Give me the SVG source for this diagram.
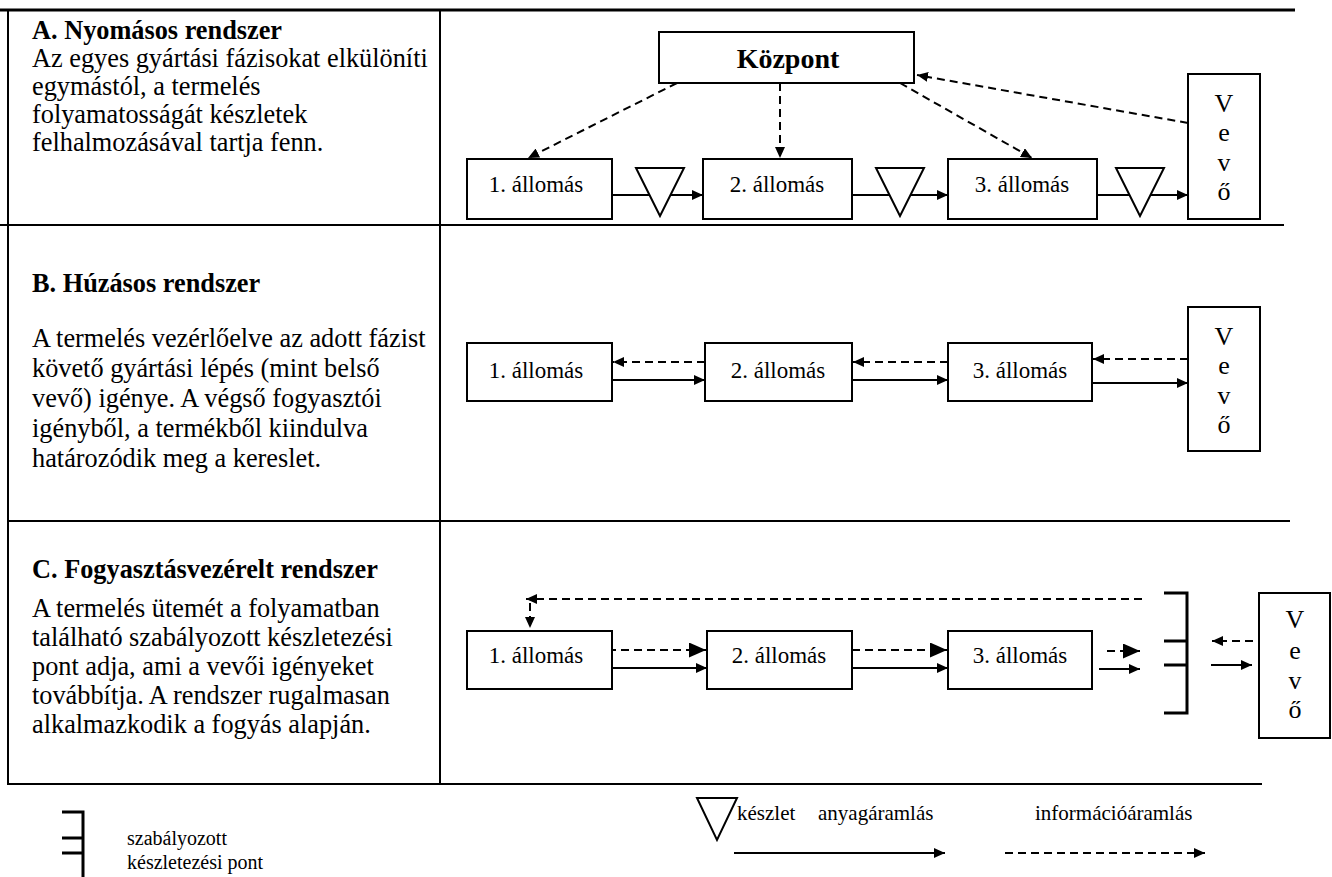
<svg xmlns="http://www.w3.org/2000/svg" width="1332" height="877" viewBox="0 0 1332 877">
<style>
text{font-family:"Liberation Serif","Times New Roman",serif;fill:#000}
.h{font-size:26.3px;font-weight:bold}
.b{font-size:26.3px}
.st{font-size:23px;text-anchor:middle}
.v{font-size:26px;text-anchor:middle}
.lg{font-size:21px}
.lgs{font-size:20px}
.box{fill:#fff;stroke:#000;stroke-width:2}
.grid{stroke:#000;stroke-width:2;fill:none}
.sol{stroke:#000;stroke-width:2;fill:none}
.dsh{stroke:#000;stroke-width:2;fill:none;stroke-dasharray:8 5}
.brk{stroke:#000;stroke-width:3;fill:none}
.tri{fill:#fff;stroke:#000;stroke-width:2}
</style>
<defs>
<marker id="ah" markerUnits="userSpaceOnUse" markerWidth="11" markerHeight="10" refX="11" refY="5" orient="auto"><path d="M0,0 L11,5 L0,10 z" fill="#000"/></marker>
<marker id="ahL" markerUnits="userSpaceOnUse" markerWidth="17" markerHeight="15" refX="17" refY="7.5" orient="auto"><path d="M0,0 L17,7.5 L0,15 z" fill="#000"/></marker>
</defs>
<rect width="1332" height="877" fill="#fff"/>

<g id="table">
<line class="grid" x1="0" y1="10" x2="1295" y2="10" style="stroke-width:3"/>
<line class="grid" x1="8" y1="10" x2="8" y2="785"/>
<line class="grid" x1="440" y1="10" x2="440" y2="785"/>
<line class="grid" x1="0" y1="225" x2="1284" y2="225"/>
<line class="grid" x1="8" y1="521" x2="1290" y2="521"/>
<line class="grid" x1="8" y1="784" x2="1262" y2="784"/>
</g>

<g id="textA">
<text class="h" x="32" y="39">A. Nyomásos rendszer</text>
<text class="b" x="32" y="67">Az egyes gyártási fázisokat elkülöníti</text>
<text class="b" x="32" y="95">egymástól, a termelés</text>
<text class="b" x="32" y="123">folyamatosságát készletek</text>
<text class="b" x="32" y="151">felhalmozásával tartja fenn.</text>
</g>
<g id="textB">
<text class="h" x="32" y="292">B. Húzásos rendszer</text>
<text class="b" x="32" y="347">A termelés vezérlőelve az adott fázist</text>
<text class="b" x="32" y="377">követő gyártási lépés (mint belső</text>
<text class="b" x="32" y="407">vevő) igénye. A végső fogyasztói</text>
<text class="b" x="32" y="437">igényből, a termékből kiindulva</text>
<text class="b" x="32" y="467">határozódik meg a kereslet.</text>
</g>
<g id="textC">
<text class="h" x="32" y="578">C. Fogyasztásvezérelt rendszer</text>
<text class="b" x="32" y="617">A termelés ütemét a folyamatban</text>
<text class="b" x="32" y="646">található szabályozott készletezési</text>
<text class="b" x="32" y="675">pont adja, ami a vevői igényeket</text>
<text class="b" x="32" y="704">továbbítja. A rendszer rugalmasan</text>
<text class="b" x="32" y="733">alkalmazkodik a fogyás alapján.</text>
</g>

<g id="connectors">
<line class="sol" x1="612" y1="195" x2="703" y2="195" marker-end="url(#ah)"/>
<line class="sol" x1="852" y1="195" x2="948" y2="195" marker-end="url(#ah)"/>
<line class="sol" x1="1097" y1="195" x2="1188" y2="195" marker-end="url(#ah)"/>
<line class="dsh" x1="677" y1="83" x2="528" y2="158" marker-end="url(#ah)"/>
<line class="dsh" x1="780" y1="83" x2="780" y2="158" marker-end="url(#ah)"/>
<line class="dsh" x1="900" y1="83" x2="1032" y2="158" marker-end="url(#ah)"/>
<line class="dsh" x1="1188" y1="123" x2="917" y2="75" marker-end="url(#ah)"/>
<line class="dsh" x1="705" y1="362" x2="613" y2="362" marker-end="url(#ah)"/>
<line class="sol" x1="612" y1="380" x2="705" y2="380" marker-end="url(#ah)"/>
<line class="dsh" x1="948" y1="362" x2="853" y2="362" marker-end="url(#ah)"/>
<line class="sol" x1="852" y1="380" x2="948" y2="380" marker-end="url(#ah)"/>
<line class="dsh" x1="1188" y1="359" x2="1093" y2="359" marker-end="url(#ah)"/>
<line class="sol" x1="1092" y1="383" x2="1188" y2="383" marker-end="url(#ah)"/>
<line class="dsh" x1="608" y1="650" x2="706" y2="650" marker-end="url(#ahL)"/>
<line class="sol" x1="612" y1="668" x2="707" y2="668" marker-end="url(#ah)"/>
<line class="dsh" x1="852" y1="650" x2="947" y2="650" marker-end="url(#ahL)"/>
<line class="sol" x1="852" y1="668" x2="948" y2="668" marker-end="url(#ah)"/>
<line class="dsh" x1="1107" y1="651" x2="1140" y2="651" marker-end="url(#ahL)"/>
<line class="sol" x1="1099" y1="669" x2="1140" y2="669" marker-end="url(#ah)"/>
<line class="dsh" x1="1142" y1="599" x2="526" y2="599" marker-end="url(#ah)"/>
<line class="dsh" x1="530" y1="603" x2="530" y2="628" marker-end="url(#ah)"/>
<line class="dsh" x1="1253" y1="641" x2="1212" y2="641" marker-end="url(#ah)"/>
<line class="sol" x1="1211" y1="665" x2="1252" y2="665" marker-end="url(#ah)"/>
</g>

<g id="kozpont">
<rect class="box" x="659" y="32" width="255" height="51"/>
<text x="788" y="68" style="font-size:28px;font-weight:bold;text-anchor:middle">Központ</text>
</g>

<g id="A-allomas1"><rect class="box" x="467" y="159" width="145" height="60"/><text class="st" x="536" y="192">1. állomás</text></g>
<g id="A-allomas2"><rect class="box" x="703" y="159" width="149" height="60"/><text class="st" x="777" y="192">2. állomás</text></g>
<g id="A-allomas3"><rect class="box" x="948" y="159" width="149" height="60"/><text class="st" x="1022" y="192">3. állomás</text></g>
<g id="A-keszlet1"><polygon class="tri" points="636,168 684,168 660,216"/></g>
<g id="A-keszlet2"><polygon class="tri" points="876,168 924,168 900,216"/></g>
<g id="A-keszlet3"><polygon class="tri" points="1116,168 1164,168 1140,216"/></g>
<g id="A-vevo"><rect class="box" x="1188" y="74" width="72" height="145"/>
<text class="v" x="1224" y="112">V</text><text class="v" x="1224" y="141">e</text><text class="v" x="1224" y="171">v</text><text class="v" x="1224" y="200">ő</text></g>

<g id="B-allomas1"><rect class="box" x="467" y="343" width="145" height="58"/><text class="st" x="536" y="378">1. állomás</text></g>
<g id="B-allomas2"><rect class="box" x="705" y="343" width="147" height="58"/><text class="st" x="778" y="378">2. állomás</text></g>
<g id="B-allomas3"><rect class="box" x="948" y="343" width="144" height="58"/><text class="st" x="1020" y="378">3. állomás</text></g>
<g id="B-vevo"><rect class="box" x="1188" y="307" width="72" height="144"/>
<text class="v" x="1224" y="345">V</text><text class="v" x="1224" y="374">e</text><text class="v" x="1224" y="404">v</text><text class="v" x="1224" y="433">ő</text></g>

<g id="C-allomas1"><rect class="box" x="467" y="631" width="145" height="58"/><text class="st" x="536" y="663">1. állomás</text></g>
<g id="C-allomas2"><rect class="box" x="707" y="631" width="145" height="58"/><text class="st" x="779" y="663">2. állomás</text></g>
<g id="C-allomas3"><rect class="box" x="948" y="631" width="144" height="58"/><text class="st" x="1020" y="663">3. állomás</text></g>
<g id="C-keszletpont"><path class="brk" d="M1164,593 H1187 V713 H1164 M1164,641 H1187 M1164,665 H1187"/></g>
<g id="C-vevo"><rect class="box" x="1259" y="593" width="71" height="145"/>
<text class="v" x="1295" y="628">V</text><text class="v" x="1295" y="659">e</text><text class="v" x="1295" y="689">v</text><text class="v" x="1295" y="718">ő</text></g>

<g id="legend">
<path class="brk" d="M62,812 H83 V877 M62,838 H83 M62,853 H83"/>
<text class="lgs" x="127" y="845">szabályozott</text>
<text class="lgs" x="127" y="869">készletezési pont</text>
<polygon class="tri" points="697,798 737,798 717,840"/>
<text class="lg" x="737" y="820">készlet</text>
<text class="lg" x="818" y="820">anyagáramlás</text>
<line class="sol" x1="734" y1="853" x2="945" y2="853" marker-end="url(#ah)"/>
<text class="lg" x="1035" y="820">információáramlás</text>
<line class="dsh" x1="1005" y1="853" x2="1205" y2="853" marker-end="url(#ah)"/>
</g>
</svg>
